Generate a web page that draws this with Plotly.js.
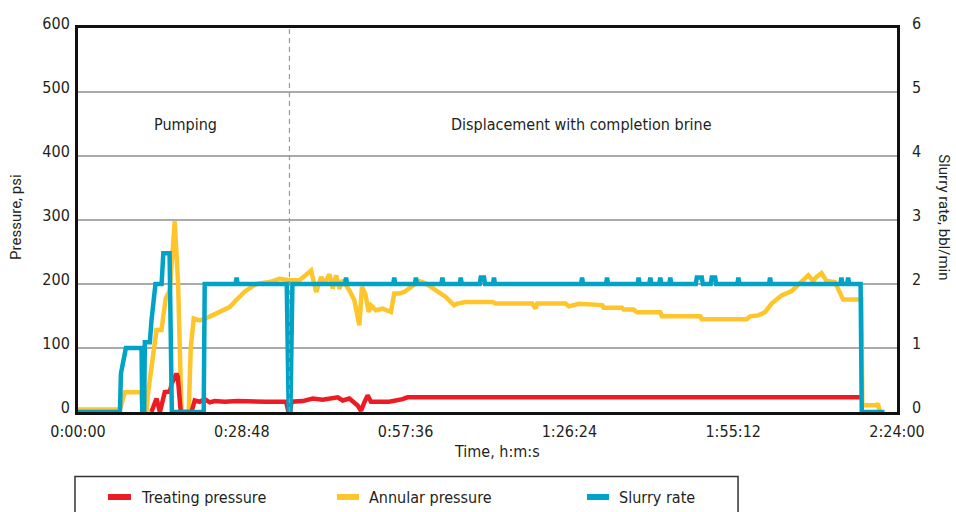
<!DOCTYPE html>
<html>
<head>
<meta charset="utf-8">
<script src="https://cdn.plot.ly/plotly-3.0.1.min.js"></script>
<style>html,body{margin:0;padding:0;background:#fff;}#chart{width:956px;height:512px;}</style>
</head>
<body>
<div id="chart"></div>
<script>
// Time in minutes
const tickTimes = [0, 28.8, 57.6, 86.4, 115.2, 144];
const tickLabels = ["0:00:00", "0:28:48", "0:57:36", "1:26:24", "1:55:12", "2:24:00"];

const seriesNames = ["Treating pressure", "Annular pressure", "Slurry rate"];

const treatingTime = [12.9, 13.8, 14.4, 15.26, 16.14, 16.5, 17.31, 17.54, 18.07, 19.95, 20.52, 21.4, 22.28, 23.15, 24.03, 25.78, 28.0, 30.5, 33.0, 36.6, 37.0, 37.25, 37.55, 39.5, 41.28, 43.03, 44.79, 45.66, 46.54, 47.71, 49.17, 49.76, 50.34, 50.92, 51.51, 54.72, 57.06, 57.94, 137.74];
const treatingPsi  = [0, 21, 0, 31, 32, 45, 60, 55, 0, 0, 18, 16, 20, 15, 17, 16, 17, 16, 16, 16, 0, 0, 16, 17, 21, 19, 21, 23, 18, 21, 10, 2, 15, 26, 16, 16, 20, 23, 23];

const annularTime = [0, 7.37, 8.24, 11.17, 11.35, 12.05, 12.33, 13.8, 14.68, 15.43, 16.14, 17.01, 17.6, 18.19, 19.47, 19.82, 20.35, 21.4, 23.15, 24.9, 26.66, 27.83, 29.29, 31.34, 33.68, 35.43, 37.19, 38.94, 40.99, 41.87, 42.74, 43.33, 44.2, 44.79, 45.38, 45.96, 46.54, 47.71, 48.59, 49.46, 49.93, 50.51, 51.1, 51.51, 52.39, 53.56, 54.43, 55.02, 55.6, 56.48, 57.36, 58.23, 59.11, 59.99, 61.16, 62.91, 64.66, 66.13, 66.71, 68.17, 72.85, 73.43, 79.86, 80.44, 80.74, 85.71, 86.3, 88.05, 92.15, 92.44, 95.65, 95.94, 97.7, 98.28, 102.38, 102.67, 109.39, 109.68, 117.57, 118.17, 119.62, 120.8, 121.96, 123.71, 125.47, 128.39, 129.27, 129.85, 130.73, 131.6, 133.08, 134.53, 137.74, 137.9, 140.37, 140.67, 140.97];
const annularPsi  = [4, 4, 31, 31, 0, 0, 31, 128, 128, 178, 190, 298, 200, 0, 0, 100, 146, 143, 149, 156, 164, 175, 188, 200, 203, 208, 206, 206, 221, 187.5, 211, 200.6, 215.2, 192.8, 213.6, 192.8, 206, 190.2, 174.5, 135.5, 195.3, 185, 156.3, 166.7, 158.9, 161.5, 158.9, 156.3, 185, 185, 187.5, 192.8, 198, 204.7, 200.6, 190.2, 179.7, 166.7, 169.4, 171.9, 171.9, 169.4, 169.4, 161.5, 169.4, 169.4, 165, 169, 167, 163, 163, 160, 160, 156, 156, 149.5, 149.5, 145, 145, 149.5, 151, 156, 169.4, 182.3, 189, 213.6, 204.7, 211, 217.2, 204.7, 203, 175.6, 175.6, 10.5, 10.5, 13, 0];

const slurryTime = [0, 7.37, 7.55, 8.0, 8.42, 11.17, 11.3, 11.63, 11.75, 12.63, 12.92, 13.62, 14.7, 15.0, 16.1, 16.5, 22.1, 22.28,
  27.7, 27.89, 28.08, 36.7, 37.05, 37.35, 37.7,
  46.95, 47.13, 47.31, 55.42, 55.6, 55.78, 59.23, 59.41, 59.59, 63.89, 64.07, 64.25, 67.12, 67.3, 67.48,
  70.63, 70.81, 71.39, 71.57, 72.96, 73.14, 73.32, 88.45, 88.63, 88.81, 92.84, 93.02, 93.2,
  98.39, 98.57, 98.75, 100.45, 100.63, 100.81, 102.2, 102.38, 102.56, 103.96, 104.14, 104.32,
  108.62, 108.8, 109.68, 109.86, 111.25, 111.43, 112.03, 112.21, 115.93, 116.11, 116.29,
  121.5, 121.68, 121.86, 134.05, 134.23, 134.41, 135.23, 135.41, 135.59, 137.6, 137.8, 141.8];
const slurryRate = [0, 0, 0.6, 0.86, 1.0, 1.0, 0, 0, 1.09, 1.09, 1.43, 2.0, 2.0, 2.48, 2.48, 0, 0, 2.0,
  2.0, 2.1, 2.0, 2.0, 0, 0, 2.0,
  2.0, 2.1, 2.0, 2.0, 2.1, 2.0, 2.0, 2.1, 2.0, 2.0, 2.1, 2.0, 2.0, 2.1, 2.0,
  2.0, 2.1, 2.1, 2.0, 2.0, 2.1, 2.0, 2.0, 2.1, 2.0, 2.0, 2.1, 2.0,
  2.0, 2.1, 2.0, 2.0, 2.1, 2.0, 2.0, 2.1, 2.0, 2.0, 2.1, 2.0,
  2.0, 2.1, 2.1, 2.0, 2.0, 2.1, 2.1, 2.0, 2.0, 2.1, 2.0,
  2.0, 2.1, 2.0, 2.0, 2.1, 2.0, 2.0, 2.1, 2.0, 2.0, 0, 0];

const phaseBoundary = 37.18;
const phaseLabels = ["Pumping", "Displacement with completion brine"];
const phaseLabelTimes = [18.9, 88.6];
const phaseLabelPsi = 450;

const colors = {red: "#ED1C24", yellow: "#FFC52B", blue: "#00A3C6"};
const narrow = "DejaVu Sans Condensed, Liberation Sans Narrow, sans-serif";
const regular = "Roboto, Liberation Sans, sans-serif";
const fs = 16;

const traces = [
  {x: slurryTime, y: slurryRate, yaxis: "y2", type: "scatter", mode: "lines", name: seriesNames[2],
   line: {color: colors.blue, width: 4.5}},
  {x: annularTime, y: annularPsi, type: "scatter", mode: "lines", name: seriesNames[1],
   line: {color: colors.yellow, width: 4.5}},
  {x: treatingTime, y: treatingPsi, type: "scatter", mode: "lines", name: seriesNames[0],
   line: {color: colors.red, width: 4.5}}
];

// legend (manual) in paper coordinates
const legY = -0.2214;
const legendItems = [
  {name: seriesNames[0], color: colors.red, x0: 0.0366, x1: 0.0647, tx: 0.0745},
  {name: seriesNames[1], color: colors.yellow, x0: 0.3162, x1: 0.3431, tx: 0.3529},
  {name: seriesNames[2], color: colors.blue, x0: 0.6215, x1: 0.6484, tx: 0.6581}
];

const shapes = [
  {type: "line", xref: "x", yref: "paper", x0: phaseBoundary, x1: phaseBoundary, y0: 0, y1: 1,
   line: {color: "#999999", width: 1.2, dash: "5px,4px"}, layer: "above"},
  {type: "rect", xref: "paper", yref: "paper", x0: -0.0037, x1: 0.8059, y0: -0.168, y1: -0.32,
   line: {color: "#333333", width: 1.5}, fillcolor: "rgba(0,0,0,0)"}
];
const annotations = [];
legendItems.forEach(it => {
  shapes.push({type: "line", xref: "paper", yref: "paper", x0: it.x0, x1: it.x1, y0: legY, y1: legY,
    line: {color: it.color, width: 6}});
  annotations.push({xref: "paper", yref: "paper", x: it.tx, y: legY, xanchor: "left", yanchor: "middle",
    text: it.name, showarrow: false, font: {family: narrow, size: fs, color: "#231f20"}});
});
phaseLabels.forEach((t, i) => {
  annotations.push({xref: "x", yref: "y", x: phaseLabelTimes[i], y: phaseLabelPsi, text: t, showarrow: false,
    xanchor: "center", yanchor: "middle", font: {family: narrow, size: fs, color: "#231f20"}});
});
annotations.push({xref: "paper", yref: "paper", x: 0.512, y: -0.104, text: "Time, h:m:s", showarrow: false,
  xanchor: "center", yanchor: "middle", font: {family: narrow, size: fs, color: "#231f20"}});
annotations.push({xref: "paper", yref: "paper", x: -0.0757, y: 0.508, text: "Pressure, psi", showarrow: false,
  textangle: -90, xanchor: "center", yanchor: "middle", font: {family: regular, size: 15, color: "#231f20"}});
annotations.push({xref: "paper", yref: "paper", x: 1.0574, y: 0.507, text: "Slurry rate, bbl/min", showarrow: false,
  textangle: 90, xanchor: "center", yanchor: "middle", font: {family: regular, size: 15, color: "#231f20"}});

const layout = {
  width: 956, height: 512,
  margin: {l: 78, r: 59, t: 28, b: 100, pad: 0},
  paper_bgcolor: "#ffffff", plot_bgcolor: "#ffffff",
  showlegend: false,
  font: {family: narrow, size: fs, color: "#231f20"},
  xaxis: {range: [0, 144], tickmode: "array", tickvals: tickTimes, ticktext: tickLabels,
    showgrid: false, zeroline: false, showline: true, mirror: true, linecolor: "#111111", linewidth: 3,
    ticks: "", ticklabelstandoff: 3, tickfont: {family: narrow, size: fs, color: "#231f20"}},
  yaxis: {range: [0, 600], tick0: 0, dtick: 100, showgrid: true, gridcolor: "#aaaaaa", gridwidth: 1.5,
    zeroline: false, showline: true, mirror: true, linecolor: "#111111", linewidth: 3, ticks: "",
    ticklabelshift: -5, ticklabelstandoff: 2, tickfont: {family: narrow, size: fs, color: "#231f20"}},
  yaxis2: {range: [0, 6], tick0: 0, dtick: 1, overlaying: "y", side: "right", showgrid: false,
    zeroline: false, showline: false, ticks: "", ticklabelshift: -5, ticklabelstandoff: 14,
    tickfont: {family: narrow, size: fs, color: "#231f20"}},
  shapes: shapes,
  annotations: annotations
};

Plotly.newPlot("chart", traces, layout, {staticPlot: true, displayModeBar: false});
</script>
</body>
</html>
